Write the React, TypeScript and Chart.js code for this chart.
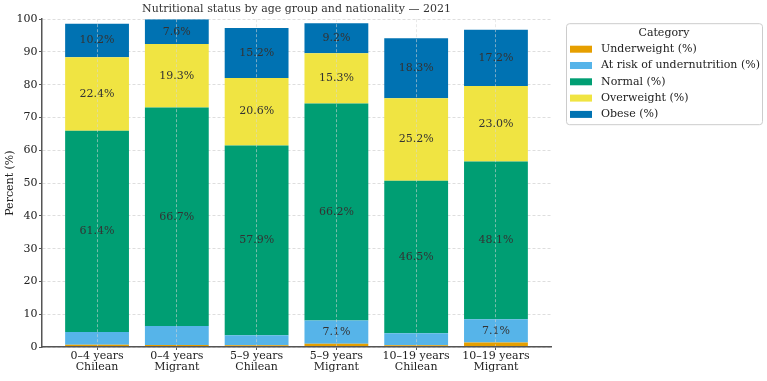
import React, { useEffect, useRef } from "react";
import { Chart, registerables } from "chart.js";

Chart.register(...registerables);

const categories: string[][] = [
  ["0–4 years", "Chilean"],
  ["0–4 years", "Migrant"],
  ["5–9 years", "Chilean"],
  ["5–9 years", "Migrant"],
  ["10–19 years", "Chilean"],
  ["10–19 years", "Migrant"],
];

const underweight = [0.7, 0.6, 0.5, 1.0, 0.5, 1.4];
const atRisk = [3.9, 5.8, 3.1, 7.1, 3.7, 7.1];
const normal = [61.4, 66.7, 57.9, 66.2, 46.5, 48.1];
const overweight = [22.4, 19.3, 20.6, 15.3, 25.2, 23.0];
const obese = [10.2, 7.6, 15.2, 9.2, 18.3, 17.2];

const seriesNames = [
  "Underweight (%)",
  "At risk of undernutrition (%)",
  "Normal (%)",
  "Overweight (%)",
  "Obese (%)",
];
const seriesValues = [underweight, atRisk, normal, overweight, obese];
const seriesColors = ["#E69F00", "#56B4E9", "#009E73", "#F0E442", "#0072B2"];

const yTicks = [0, 10, 20, 30, 40, 50, 60, 70, 80, 90, 100];

const FONT = "'DejaVu Serif', serif";
const LABEL_MIN = 7;

// Percentage labels centred in each sufficiently tall segment
const segmentLabels = {
  id: "segmentLabels",
  afterDatasetsDraw(chart: any) {
    const ctx = chart.ctx;
    ctx.save();
    ctx.font = `11px ${FONT}`;
    ctx.fillStyle = "#333333";
    ctx.textAlign = "center";
    ctx.textBaseline = "middle";
    chart.data.datasets.forEach((ds: any, di: number) => {
      const meta = chart.getDatasetMeta(di);
      meta.data.forEach((el: any, i: number) => {
        const v = ds.data[i].y;
        if (v >= LABEL_MIN) {
          ctx.fillText(`${v.toFixed(1)}%`, el.x, (el.y + el.base) / 2);
        }
      });
    });
    ctx.restore();
  },
};

// Framed legend with a title, placed right of the plot area
const boxedLegend = {
  id: "boxedLegend",
  afterDraw(chart: any) {
    const ctx = chart.ctx;
    const area = chart.chartArea;
    const left = area.right + 15;
    const top = area.top + 4;
    const w = 196;
    const h = 101;
    ctx.save();
    ctx.fillStyle = "rgba(255,255,255,0.9)";
    ctx.strokeStyle = "#cccccc";
    ctx.lineWidth = 1;
    ctx.beginPath();
    (ctx as any).roundRect(left + 0.5, top + 0.5, w, h, 3);
    ctx.fill();
    ctx.stroke();

    ctx.fillStyle = "#222222";
    ctx.textBaseline = "middle";
    ctx.font = `11px ${FONT}`;
    ctx.textAlign = "center";
    ctx.fillText("Category", left + w / 2, top + 10);

    ctx.textAlign = "left";
    chart.data.datasets.forEach((ds: any, i: number) => {
      const cy = top + 26 + i * 16.3;
      ctx.fillStyle = ds.backgroundColor;
      ctx.fillRect(left + 4, cy - 3.5, 22, 7);
      ctx.fillStyle = "#222222";
      ctx.fillText(ds.label, left + 35, cy);
    });
    ctx.restore();
  },
};

export default function App() {
  const canvasRef = useRef<HTMLCanvasElement | null>(null);

  useEffect(() => {
    document.body.style.margin = "0";
    const canvas = canvasRef.current;
    if (!canvas) return;

    const chart = new Chart(canvas, {
      type: "bar",
      data: {
        datasets: seriesNames.map((name, s) => ({
          label: name,
          data: seriesValues[s].map((v, i) => ({ x: i, y: v })),
          backgroundColor: seriesColors[s],
          borderWidth: 0,
          categoryPercentage: 0.8,
          barPercentage: 1.0,
        })),
      },
      options: {
        responsive: false,
        animation: false,
        layout: { padding: { left: 0, top: 0, right: 216, bottom: 0 } },
        plugins: {
          legend: { display: false },
          tooltip: { enabled: false },
          title: {
            display: true,
            text: "Nutritional status by age group and nationality — 2021",
            fullSize: false,
            color: "#333333",
            font: { family: FONT, size: 11, weight: "normal" },
            padding: { top: 3, bottom: 3 },
          },
        },
        scales: {
          x: {
            type: "linear",
            stacked: true,
            offset: false,
            min: -0.69,
            max: 5.69,
            afterFit(scale: any) {
              scale.height = 34;
            },
            ticks: {
              stepSize: 1,
              includeBounds: false,
              autoSkip: false,
              maxRotation: 0,
              padding: 0,
              color: "#222222",
              font: { family: FONT, size: 11, lineHeight: 1.05 },
              callback: (value: any) =>
                Number.isInteger(value) && categories[value] ? categories[value] : "",
            },
            grid: {
              z: 1,
              offset: false,
              color: "rgba(215,215,215,0.55)",
              tickColor: "#555555",
              tickLength: 3,
              tickBorderDash: [],
            },
            border: { display: true, z: 1, color: "#555555", width: 1.5, dash: [3, 2] },
          },
          y: {
            stacked: true,
            min: 0,
            max: 100,
            afterFit(scale: any) {
              scale.width = 42;
            },
            afterBuildTicks(scale: any) {
              scale.ticks = yTicks.map((v) => ({ value: v }));
            },
            title: {
              display: true,
              text: "Percent (%)",
              color: "#222222",
              font: { family: FONT, size: 11 },
              padding: { top: 4, bottom: 0 },
            },
            ticks: {
              padding: 1.5,
              color: "#222222",
              font: { family: FONT, size: 11 },
            },
            grid: {
              color: "rgba(200,200,200,0.6)",
              tickColor: "#555555",
              tickLength: 3,
              tickBorderDash: [],
            },
            border: { display: true, z: 1, color: "#555555", width: 1.5, dash: [3, 2] },
          },
        },
      },
      plugins: [segmentLabels, boxedLegend],
    } as any);

    return () => chart.destroy();
  }, []);

  return (
    <div>
      <canvas ref={canvasRef} width={767} height={381} style={{ display: "block" }} />
    </div>
  );
}
